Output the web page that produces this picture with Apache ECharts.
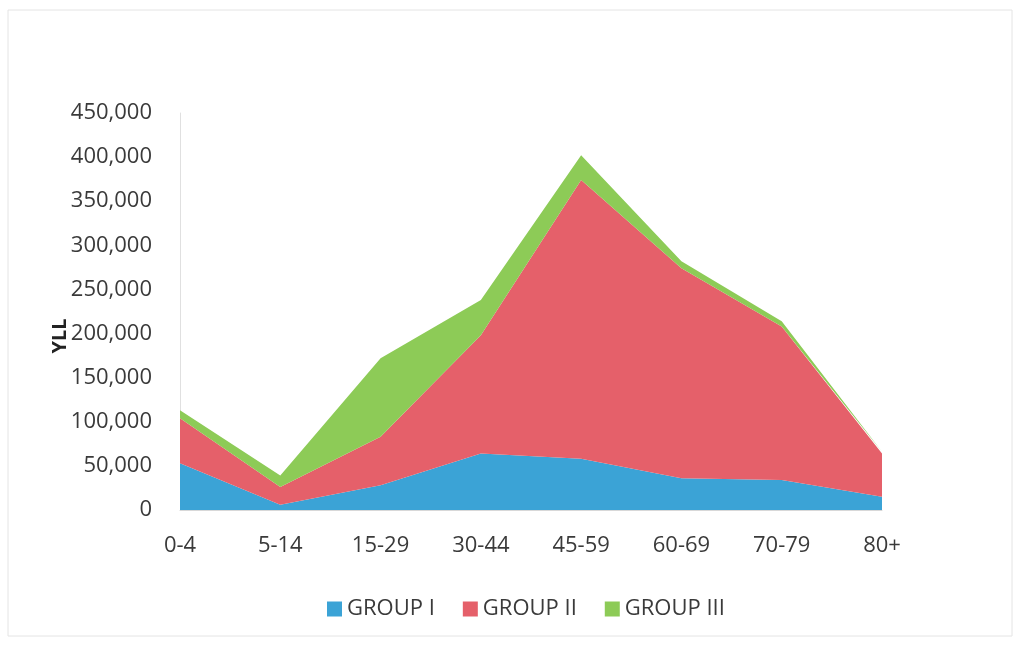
<!DOCTYPE html>
<html>
<head>
<meta charset="utf-8">
<script src="https://cdn.jsdelivr.net/npm/echarts@6/dist/echarts.min.js"></script>
<style>
  html, body { margin: 0; padding: 0; background: #fff; }
  #chart { width: 1022px; height: 646px; }
</style>
</head>
<body>
<div id="chart"></div>
<script>
// age groups and YLL per cause group
var ageGroups = ['0-4', '5-14', '15-29', '30-44', '45-59', '60-69', '70-79', '80+'];
var group1 = [53000, 6000, 28000, 64000, 58000, 36000, 34000, 15000];
var group2 = [51000, 20000, 55000, 134000, 316000, 238000, 174000, 49000];
var group3 = [9000, 13000, 89000, 40000, 28000, 8000, 6000, 2000];
var yTicks = [0, 50000, 100000, 150000, 200000, 250000, 300000, 350000, 400000, 450000];

var colors = ['#3ba3d6', '#e5606a', '#8dcb57'];
var font = '"Open Sans", sans-serif';

function areaSeries(name, data) {
    return {
        name: name,
        type: 'line',
        stack: 'yll',
        data: data,
        symbol: 'none',
        lineStyle: { width: 0 },
        areaStyle: { opacity: 1 },
        emphasis: { disabled: true }
    };
}

var mychart = echarts.init(document.getElementById('chart'));
mychart.setOption({
    color: colors,
    animation: false,
    grid: { left: 180, right: 140, top: 113, bottom: 136 },
    graphic: [
        {
            type: 'rect',
            shape: { x: 8, y: 10, width: 1004, height: 626 },
            style: { fill: 'none', stroke: '#e4e4e4', lineWidth: 1 }
        },
        {
            type: 'text',
            x: 60, y: 336,
            rotation: Math.PI / 2,
            style: {
                text: 'YLL', font: 'bold 20px ' + font, fill: '#222',
                align: 'center', verticalAlign: 'middle'
            }
        }
    ],
    legend: {
        top: 593,
        left: 322,
        itemWidth: 15,
        itemHeight: 15,
        itemGap: 28,
        icon: 'rect',
        textStyle: { fontFamily: font, fontSize: 22, color: '#3a3a3a' },
        data: ['GROUP I', 'GROUP II', 'GROUP III']
    },
    xAxis: {
        type: 'category',
        data: ageGroups,
        boundaryGap: false,
        axisLine: { lineStyle: { color: '#d8d8d8' } },
        axisTick: { show: false },
        axisLabel: { fontFamily: font, fontSize: 22, color: '#3a3a3a', margin: 25 }
    },
    yAxis: {
        type: 'value',
        min: 0,
        max: yTicks[yTicks.length - 1],
        interval: yTicks[1] - yTicks[0],
        splitLine: { show: false },
        axisLine: { show: true, lineStyle: { color: '#e0e0e0' } },
        axisTick: { show: false },
        axisLabel: {
            fontFamily: font, fontSize: 22, color: '#3a3a3a', margin: 28,
            formatter: function (v) { return v.toLocaleString('en-US'); }
        }
    },
    series: [
        areaSeries('GROUP I', group1),
        areaSeries('GROUP II', group2),
        areaSeries('GROUP III', group3)
    ]
});
</script>
</body>
</html>
